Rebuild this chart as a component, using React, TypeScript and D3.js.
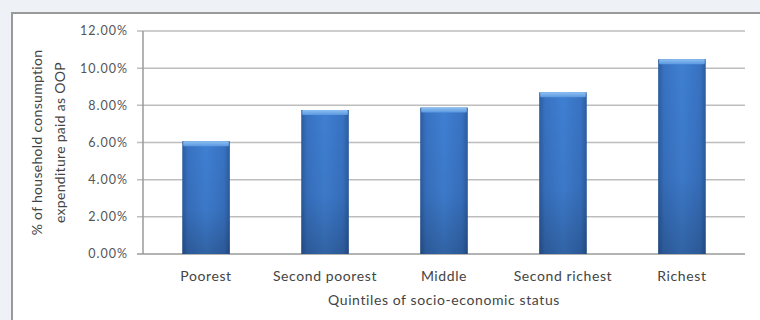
import React from "react";
import * as d3 from "d3";

const categories = ["Poorest", "Second poorest", "Middle", "Second richest", "Richest"];
const values = [6.07, 7.75, 7.88, 8.7, 10.48];
const yTicks = [0, 2, 4, 6, 8, 10, 12];
const yTitleLines = ["% of household consumption", "expenditure paid as OOP"];
const xTitle = "Quintiles of socio-economic status";

const W = 760;
const H = 320;
const plot = { left: 143, right: 745, top: 31, bottom: 254 };

export default function App() {
  const x = d3
    .scaleBand<string>()
    .domain(categories)
    .range([plot.left, plot.right])
    .paddingInner(0.6)
    .paddingOuter(0.33);
  const y = d3.scaleLinear().domain([0, 12]).range([plot.bottom, plot.top]);
  const font = "Lato, 'Open Sans', sans-serif";
  const cx = (plot.left + plot.right) / 2;
  const cy = (plot.top + plot.bottom) / 2;

  return (
    <svg
      width={W}
      height={H}
      style={{ position: "absolute", left: 0, top: 0, background: "#eef2f6" }}
      fontFamily={font}
    >
      <defs>
        <linearGradient id="barH" x1="0" x2="1" y1="0" y2="0">
          <stop offset="0" stopColor="#2b5c9f" />
          <stop offset="0.12" stopColor="#3872c2" />
          <stop offset="0.5" stopColor="#3f7fd2" />
          <stop offset="0.88" stopColor="#3872c2" />
          <stop offset="1" stopColor="#2b5c9f" />
        </linearGradient>
        <linearGradient id="barV" x1="0" x2="0" y1="0" y2="1">
          <stop offset="0" stopColor="#000" stopOpacity="0" />
          <stop offset="0.6" stopColor="#000" stopOpacity="0.05" />
          <stop offset="1" stopColor="#000" stopOpacity="0.22" />
        </linearGradient>
        <linearGradient id="cap" x1="0" x2="0" y1="0" y2="1">
          <stop offset="0" stopColor="#8cc0f2" />
          <stop offset="1" stopColor="#5b98e0" />
        </linearGradient>
      </defs>
      <rect x={12} y={13} width={760} height={320} fill="#ffffff" stroke="#9a9a9a" strokeWidth={2} />
      {yTicks.map((t) => (
        <g key={t}>
          <line
            x1={plot.left - 6}
            x2={plot.right}
            y1={y(t)}
            y2={y(t)}
            stroke={t === 0 ? "#9a9a9a" : "#bdbdbd"}
            strokeWidth={1.5}
          />
          <text
            x={128}
            y={y(t)}
            dy="0.35em"
            textAnchor="end"
            fontSize={12.5}
            letterSpacing={1}
            fill="#555"
          >
            {t.toFixed(2) + "%"}
          </text>
        </g>
      ))}
      <line x1={plot.left} x2={plot.left} y1={plot.top} y2={plot.bottom} stroke="#9a9a9a" strokeWidth={1.5} />
      {categories.map((c, i) => {
        const bx = x(c) as number;
        const bw = x.bandwidth();
        const by = y(values[i]);
        const bh = plot.bottom - by;
        return (
          <g key={c}>
            <rect x={bx} y={by} width={bw} height={bh} fill="url(#barH)" />
            <rect x={bx} y={by} width={bw} height={bh} fill="url(#barV)" />
            <rect x={bx + 1} y={by} width={bw - 2} height={5} fill="url(#cap)" rx={1} />
            <text
              x={bx + bw / 2}
              y={276}
              dy="0.35em"
              textAnchor="middle"
              fontSize={14}
              letterSpacing={0.6}
              fill="#444"
            >
              {c}
            </text>
          </g>
        );
      })}
      <text x={cx} y={300} dy="0.35em" textAnchor="middle" fontSize={14} letterSpacing={0.6} fill="#444">
        {xTitle}
      </text>
      {yTitleLines.map((l, i) => (
        <text
          key={l}
          transform={`translate(${37 + i * 23},${cy}) rotate(-90)`}
          dy="0.35em"
          textAnchor="middle"
          fontSize={14}
          letterSpacing={0.3}
          fill="#444"
        >
          {l}
        </text>
      ))}
    </svg>
  );
}
